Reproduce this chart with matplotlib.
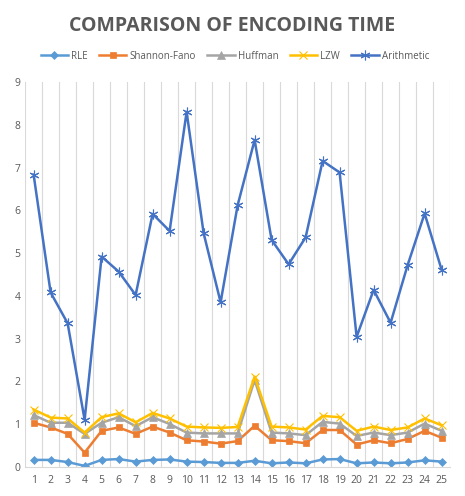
import numpy as np
import matplotlib.pyplot as plt

plt.rcParams['font.family'] = ['Open Sans', 'DejaVu Sans']

files = list(range(1, 26))
rle = [0.16, 0.16, 0.11, 0.02, 0.16, 0.18, 0.12, 0.16, 0.17, 0.12, 0.11, 0.09, 0.09,
       0.14, 0.08, 0.10, 0.08, 0.17, 0.18, 0.08, 0.10, 0.08, 0.10, 0.15, 0.12]
shannon_fano = [1.03, 0.92, 0.77, 0.33, 0.84, 0.92, 0.77, 0.94, 0.80, 0.62, 0.59, 0.54, 0.60,
                0.96, 0.62, 0.60, 0.55, 0.86, 0.86, 0.52, 0.62, 0.55, 0.65, 0.84, 0.68]
huffman = [1.21, 1.03, 1.03, 0.77, 1.03, 1.16, 0.95, 1.16, 1.00, 0.80, 0.78, 0.78, 0.78,
           2.03, 0.80, 0.78, 0.74, 1.05, 1.01, 0.72, 0.80, 0.74, 0.80, 1.01, 0.84]
lzw = [1.34, 1.15, 1.13, 0.80, 1.16, 1.25, 1.04, 1.26, 1.13, 0.94, 0.92, 0.91, 0.93,
       2.11, 0.94, 0.92, 0.87, 1.19, 1.16, 0.84, 0.94, 0.86, 0.92, 1.13, 0.97]
arithmetic = [6.84, 4.08, 3.36, 1.10, 4.92, 4.57, 4.02, 5.92, 5.52, 8.31, 5.47, 3.85, 6.12,
              7.65, 5.31, 4.74, 5.37, 7.16, 6.89, 3.04, 4.14, 3.37, 4.72, 5.93, 4.61]

# name, values, colour, marker, marker size, marker edge width
series = [
    ('RLE', rle, '#5B9BD5', 'D', 4.5, 0.5),
    ('Shannon-Fano', shannon_fano, '#ED7D31', 's', 5, 0.5),
    ('Huffman', huffman, '#A5A5A5', '^', 5.5, 0.5),
    ('LZW', lzw, '#FFC000', 'x', 6, 0.8),
    ('Arithmetic', arithmetic, '#4472C4', (6, 2, 0), 7, 0.8),
]

fig = plt.figure(figsize=(4.65, 4.96), dpi=100)
ax = fig.add_axes([0.054, 0.059, 0.914, 0.775])

for name, vals, color, marker, ms, mew in series:
    ax.plot(files, vals, color=color, lw=1.8, marker=marker, markersize=ms,
            markeredgewidth=mew, markerfacecolor=color, markeredgecolor=color,
            label=name)

ax.set_xlim(0.5, 25.5)
ax.set_ylim(0, 9)
ax.set_yticks(range(0, 10))
ax.set_xticks(files)
ax.set_xticks(np.arange(0.5, 26, 1), minor=True)
ax.grid(which='minor', axis='x', color='#D9D9D9', lw=0.8)
ax.tick_params(which='both', length=0, colors='#595959', labelsize=7.5)
ax.tick_params(axis='x', pad=6)
for s in ['top', 'right', 'left']:
    ax.spines[s].set_visible(False)
ax.spines['bottom'].set_color('#D9D9D9')

fig.text(0.5, 0.947, 'COMPARISON OF ENCODING TIME', ha='center', va='center',
         fontsize=14, fontweight='bold', color='#595959')
fig.legend(loc='center', bbox_to_anchor=(0.505, 0.887), ncol=5, frameon=False,
           fontsize=7, handlelength=2.8, columnspacing=1.2, handletextpad=0.3,
           labelcolor='#595959')

fig.savefig('out.png', dpi=100)
